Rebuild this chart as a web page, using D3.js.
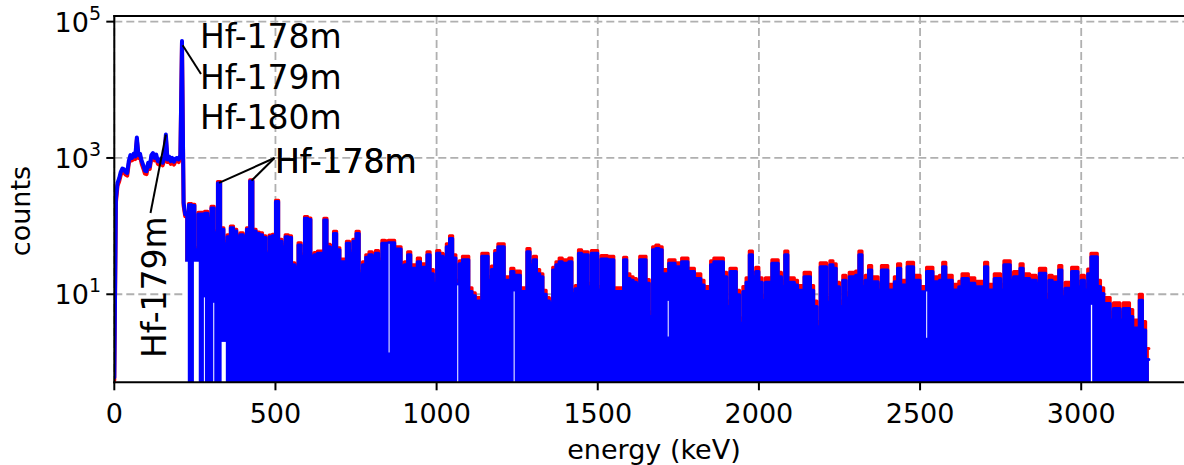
<!DOCTYPE html>
<html><head><meta charset="utf-8">
<script src="https://cdn.jsdelivr.net/npm/d3@7"></script>
<style>html,body{margin:0;padding:0;background:#fff;overflow:hidden}svg{display:block;font-family:"DejaVu Sans",sans-serif}</style>
</head><body><svg id="chart" width="1184" height="465"></svg>
<script>
// ---------- data ----------
// low-energy part (0-220 keV), drawn as a line, 5 keV steps
const lowEnergy = d3.range(0, 221, 5);
const lowBlue = [0.6,250,430,500,620,700,680,620,600,900,1100,1000,1150,1050,2000,1100,1150,900,780,650,
  640,850,750,1100,1180,1000,1120,900,880,980,850,1000,2200,950,1050,900,1000,880,980,1000,950,1100,52000,220,150];
const lowRed = [0.55,220,390,450,560,640,620,570,550,820,1000,920,1050,960,1850,1000,1050,820,700,590,
  580,780,690,1000,1080,920,1020,820,800,900,780,920,2000,870,960,820,920,800,900,920,870,1000,50000,200,140];

// main spectrum, 10 keV bins starting at 220 keV (envelope of counts)
const binStart = 220, binWidth = 10;
const blueCounts = [
 150,205,200,45,150,150,155,130,185,80,
 430,90,55,70,95,85,70,75,70,90,
 460,85,78,75,68,40,70,72,230,60,
 50,70,68,27,25,53,36,130,125,36,
 38,40,40,123,50,48,78,45,30,30,
 56,40,60,78,20,27,35,38,36,40,
 30,56,56,57,57,46,46,26,27,38,
 24,24,30,25,25,38,20,14.5,40,36,
 34,50,66,34,14,28,32,32,11,9.5,
 8,8,36,36,16,23,40,50,50,16,
 16,21.5,19,19,11,11,42,27,32,20,
 18,10,8,7.4,22.7,27,30,28.5,28.5,30,
 10.3,12,40,38,38,12.9,40,40,11.6,33,
 33,32,32,11,11,11,32,17,16,15,
 14,32,32,14.5,4.7,45,47,45,20,20,
 28.5,28.5,25.4,25.4,30,30,21.5,21.5,17,17,
 13.7,11,11,27,30,30,30,18,6.6,21.5,
 21.5,9.8,3.75,11,15,38,18,21.5,15,8.2,
 15,15,28.5,28.5,18,13,38,15,15,13.7,
 11.5,11.5,18,18,11.5,6.6,3.35,25.4,25.4,7.7,
 27,24,12.9,6.6,16,8.8,18,18,19,38,
 13,16,22.7,15.3,15.3,11.6,22.7,22.7,11.6,11.6,
 15.3,24,13.7,13.7,25.4,25.4,16,16,10.9,10.9,
 21.5,21.5,15.3,15.3,16,25.4,16,16,11.6,11.6,
 12.9,17,17,14.5,14.5,12.9,12.9,12.9,25.4,11.6,
 11.6,17,17,11.6,27,27,16,18,18,24,
 17,17,16,16,14.5,20.3,20.3,8.2,16,15,
 15,22.7,9.2,12.3,12.3,21.5,21.5,12.9,16,11.6,
 20,35.6,35.6,13,10.3,7.3,7.3,4.2,6.2,6.2,
 4.2,6.2,6.2,4.7,3.2,3.2,8.2,3.0,1.1];
const redCounts = [
 160,215,210,48,160,160,165,140,195,85,
 450,95,60,75,100,90,75,80,75,95,
 480,90,82,80,72,42,74,76,240,64,
 54,75,72,29,27,57,39,138,132,39,
 41,43,43,130,54,52,84,48,33,33,
 60,43,64,84,22,30,38,42,40,44,
 33,62,61,62,62,50,50,29,30,42,
 27,27,34,28,28,42,23,16.5,44,40,
 38,55,72,38,16,31,36,36,12.5,10.5,
 9,9,40,40,18,26,44,55,55,18,
 18,24,22,22,12.5,12.5,47,30,36,23,
 20,11.5,9,8.5,25,30,34,32,32,34,
 11.5,13.5,45,42,42,14.5,44,44,13,37,
 37,36,36,12.5,12.5,12.5,35,20,18,17,
 16,36,36,16.5,5.5,50,53,50,23,23,
 32,32,29,29,34,34,24,24,20,20,
 16,13,13,31,34,34,34,21,8,24,
 24,11.5,4.5,13,17.5,43,21,25,17.5,9.5,
 17.5,17.5,32,32,21,15.5,43,17.5,17.5,16,
 13.5,13.5,21,21,13.5,8,4,29,29,9,
 31,28,15,8,19,10.5,21,21,22,43,
 15.5,19,26.5,18,18,14,26.5,26.5,14,14,
 18,28,16,16,29.5,29.5,19,19,13,13,
 25,25,18,18,19,29.5,19,19,14,14,
 15.5,20,20,17.5,17.5,15.5,15.5,15.5,29.5,14,
 14,20,20,14,31,31,19,21.5,21.5,28,
 20,20,19,19,17.5,24,24,10,19,18,
 18,26.5,11,15,15,25,25,15.5,19,14,
 23.5,40,40,16,12.5,9,9,5.5,7.5,7.5,
 5.5,7.5,7.5,6,4.2,4.2,10,4,1.6];

// white gaps in the filled spectrum (keV range, count range)
const gapStart = [214, 247, 278, 307, 333, 851, 1064, 1239, 1717, 2519, 3030];
const gapEnd   = [228, 262, 281, 310, 346, 854, 1067, 1241, 1720, 2522, 3034];
const gapLow   = [0.4, 0.4, 0.4, 0.4, 0.4, 1.4, 0.4, 0.4, 2.4, 2.3, 0.4];
const gapHigh  = [30, 30, 9, 7.5, 2, 55, 13.5, 11, 8, 11, 7];

// axes ticks
const xTicks = [0, 500, 1000, 1500, 2000, 2500, 3000];
const yTickExp = [1, 3, 5];

// annotations
const annoLabels = [["Hf-178m","Hf-179m","Hf-180m"], ["Hf-178m"], ["Hf-178m"], ["Hf-179m"]];
const annoEnergy = [212, 325, 426, 160];
const annoCounts = [45000, 430, 465, 2200];

// ---------- chart ----------
const svg = d3.select("#chart");
const L = 114.3, R = 1193.7, T = 16, B = 382.3;
const x = d3.scaleLinear().domain([0, 3349]).range([L, R]);
const y = d3.scaleLog().domain([0.511, 1.21e5]).range([B, T]);

svg.append("defs").append("clipPath").attr("id","clip")
  .append("rect").attr("x",L).attr("y",T).attr("width",R-L).attr("height",B-T);

// grid
const grid = svg.append("g").attr("stroke","#b0b0b0").attr("stroke-width",1.8).attr("stroke-dasharray","8,4").attr("fill","none");
xTicks.forEach(t => grid.append("line").attr("x1",x(t)).attr("x2",x(t)).attr("y1",T).attr("y2",B));
yTickExp.forEach(e => grid.append("line").attr("x1",L).attr("x2",R).attr("y1",y(Math.pow(10,e))).attr("y2",y(Math.pow(10,e))));

const plot = svg.append("g").attr("clip-path","url(#clip)");

const bins = (arr) => {
  const d = arr.map((v,i)=>({e: binStart + i*binWidth, v}));
  d.push({e: binStart + arr.length*binWidth, v: arr[arr.length-1]});
  return d;
};
const lowData = (arr) => arr.map((v,i)=>({e: lowEnergy[i], v}));

const area = d3.area().curve(d3.curveStepAfter).x(d=>x(d.e)).y0(B).y1(d=>y(d.v));
const stepLine = d3.line().curve(d3.curveStepAfter).x(d=>x(d.e)).y(d=>y(d.v));
const line = d3.line().x(d=>x(d.e)).y(d=>y(d.v));

function drawSeries(color, main, low){
  plot.append("path").datum(bins(main)).attr("d",area).attr("fill",color);
  plot.append("path").datum(bins(main)).attr("d",stepLine).attr("fill","none")
    .attr("stroke",color).attr("stroke-width",3).attr("stroke-linejoin","round").attr("stroke-linecap","round");
  plot.append("path").datum(lowData(low)).attr("d",line).attr("fill","none")
    .attr("stroke",color).attr("stroke-width",4).attr("stroke-linejoin","round").attr("stroke-linecap","round");
}
drawSeries("#ff0000", redCounts, lowRed);
drawSeries("#0000ff", blueCounts, lowBlue);

// white gaps
gapStart.forEach((s,i)=>{
  plot.append("rect").attr("x",x(s)).attr("width",Math.max(1,x(gapEnd[i])-x(s)))
    .attr("y",y(gapHigh[i])).attr("height",Math.max(0,y(gapLow[i])-y(gapHigh[i]))).attr("fill","#fff");
});

// spines
const sp = svg.append("g").attr("stroke","#000").attr("stroke-width",2);
sp.append("line").attr("x1",L).attr("x2",L).attr("y1",T-1).attr("y2",B+1);
sp.append("line").attr("x1",L-1).attr("x2",R).attr("y1",B).attr("y2",B);
sp.append("line").attr("x1",L-1).attr("x2",R).attr("y1",T).attr("y2",T);

// ticks + labels
const tk = svg.append("g");
xTicks.forEach(t=>{
  tk.append("line").attr("x1",x(t)).attr("x2",x(t)).attr("y1",B).attr("y2",B+8).attr("stroke","#000").attr("stroke-width",2);
  tk.append("text").attr("x",x(t)).attr("y",423).attr("text-anchor","middle").attr("font-size",27).text(t);
});
yTickExp.forEach(e=>{
  const yy = y(Math.pow(10,e));
  tk.append("line").attr("x1",L-8).attr("x2",L).attr("y1",yy).attr("y2",yy).attr("stroke","#000").attr("stroke-width",2);
  const t = tk.append("text").attr("x",101).attr("y",yy+10).attr("text-anchor","end").attr("font-size",27).text("10");
  t.append("tspan").attr("dy",-12).attr("font-size",19).text(e);
});
svg.append("text").attr("x",(L+R)/2).attr("y",459).attr("text-anchor","middle").attr("font-size",27).text("energy (keV)");
svg.append("text").attr("transform","translate(30,211) rotate(-90)").attr("text-anchor","middle").attr("font-size",27).text("counts");

// annotations
const an = svg.append("g");
const annoTextPos = [[200,48],[275,173],[275,173],[165.5,358]];
const annoLineEnd = [[201,74],[274.5,158],[274.5,158],[150.5,213]];
annoEnergy.forEach((e,i)=>{
  an.append("line").attr("x1",x(e)).attr("y1",y(annoCounts[i]))
    .attr("x2",annoLineEnd[i][0]).attr("y2",annoLineEnd[i][1]).attr("stroke","#000").attr("stroke-width",2);
});
annoLabels.forEach((lines,i)=>{
  const [tx,ty] = annoTextPos[i];
  const t = an.append("text").attr("font-size",33).attr("fill","#000");
  if (i===3) t.attr("transform",`translate(${tx},${ty}) rotate(-90)`);
  else t.attr("x",tx).attr("y",ty);
  lines.forEach((s,j)=>{
    t.append("tspan").attr("x", i===3?0:tx).attr("dy", j===0?0:40.5).text(s);
  });
});
</script></body></html>
